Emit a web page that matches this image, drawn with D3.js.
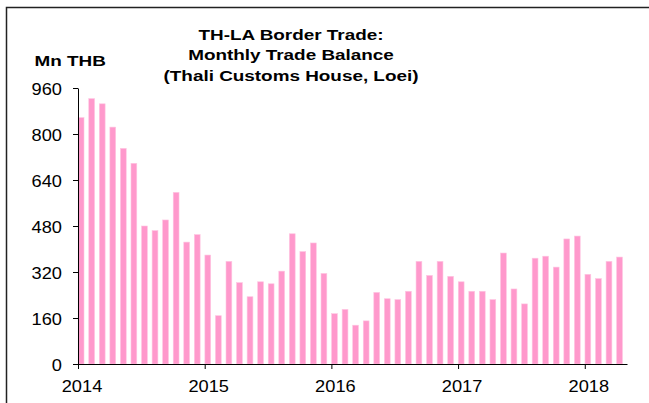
<!DOCTYPE html>
<html>
<head>
<meta charset="utf-8">
<script src="https://cdn.jsdelivr.net/npm/d3@7"></script>
<style>
  html, body { margin: 0; padding: 0; background: #fff; }
  svg { display: block; }
  text { font-family: "Liberation Sans", Arial, sans-serif; fill: #000; }
</style>
</head>
<body>
<svg id="chart" width="649" height="403"></svg>
<script>
// Data: monthly trade balance, Mn THB, Jan 2014 – Apr 2018
const startYear = 2014;
const values = [
  857, 923, 905, 824, 750, 698, 480, 464, 501, 597, 424, 450,   // 2014
  379, 168, 357, 283, 234, 286, 279, 323, 453, 391, 421, 315,   // 2015
  175, 190, 135, 150, 249, 227, 224, 253, 357, 308, 357, 305,   // 2016
  286, 253, 253, 224, 386, 261, 209, 368, 375, 337, 435, 445,   // 2017
  312, 297, 357, 372                                            // 2018
];
const yTicks = [0, 160, 320, 480, 640, 800, 960];
const yearTicks = [2014, 2015, 2016, 2017, 2018];
const titleLines = ["TH-LA Border Trade:", "Monthly Trade Balance", "(Thali Customs House, Loei)"];
const unitLabel = "Mn THB";

const svg = d3.select("#chart");

// frame
svg.append("rect")
  .attr("x", 6.5).attr("y", 7.5)
  .attr("width", 700).attr("height", 500)
  .attr("fill", "none").attr("stroke", "#222").attr("stroke-width", 1.5);

const x = d3.scaleLinear().domain([0, values.length]).range([78, 627]);
const y = d3.scaleLinear().domain([0, 960]).range([364, 88]);

// bars
svg.append("g").selectAll("rect")
  .data(values)
  .join("rect")
  .attr("x", (d, i) => x(i) + 0.2)
  .attr("width", 5.8)
  .attr("y", d => y(d))
  .attr("height", d => y(0) - y(d))
  .attr("fill", "#ff99cc")
  .attr("stroke", "#ffc6e2")
  .attr("stroke-width", 0.6);

// y axis
const yAxis = svg.append("g")
  .attr("transform", "translate(78,0)")
  .call(d3.axisLeft(y).tickValues(yTicks).tickSize(5).tickSizeOuter(0).tickFormat(d3.format("d")));
yAxis.select(".domain").attr("stroke", "#000");
yAxis.selectAll(".tick line").attr("stroke", "#000");
yAxis.selectAll(".tick text")
  .attr("x", null).attr("dy", null)
  .attr("font-size", 16)
  .attr("font-family", "Liberation Sans, Arial, sans-serif")
  .attr("text-anchor", "end")
  .attr("transform", "translate(-16,6) scale(1.14,1)");

// x axis
const xAxis = svg.append("g")
  .attr("transform", "translate(0,364)")
  .call(d3.axisBottom(x)
    .tickValues(yearTicks.map(yr => (yr - startYear) * 12))
    .tickSize(5).tickSizeOuter(0)
    .tickFormat(v => String(startYear + v / 12)));
xAxis.select(".domain").attr("stroke", "#000");
xAxis.selectAll(".tick line").attr("stroke", "#000");
xAxis.selectAll(".tick text")
  .attr("y", null).attr("dy", null)
  .attr("font-size", 16)
  .attr("font-family", "Liberation Sans, Arial, sans-serif")
  .attr("text-anchor", "middle")
  .attr("transform", "translate(3.5,27.5) scale(1.14,1)");

// title
svg.append("g").selectAll("text")
  .data(titleLines)
  .join("text")
  .attr("transform", (d, i) => `translate(291,${39.5 + i * 20.6}) scale(1.22,1)`)
  .attr("text-anchor", "middle")
  .attr("font-size", 15.5)
  .attr("font-weight", "bold")
  .text(d => d);

// unit label
svg.append("text")
  .attr("transform", "translate(34.5,66) scale(1.22,1)")
  .attr("font-size", 15.5)
  .attr("font-weight", "bold")
  .text(unitLabel);
</script>
</body>
</html>
